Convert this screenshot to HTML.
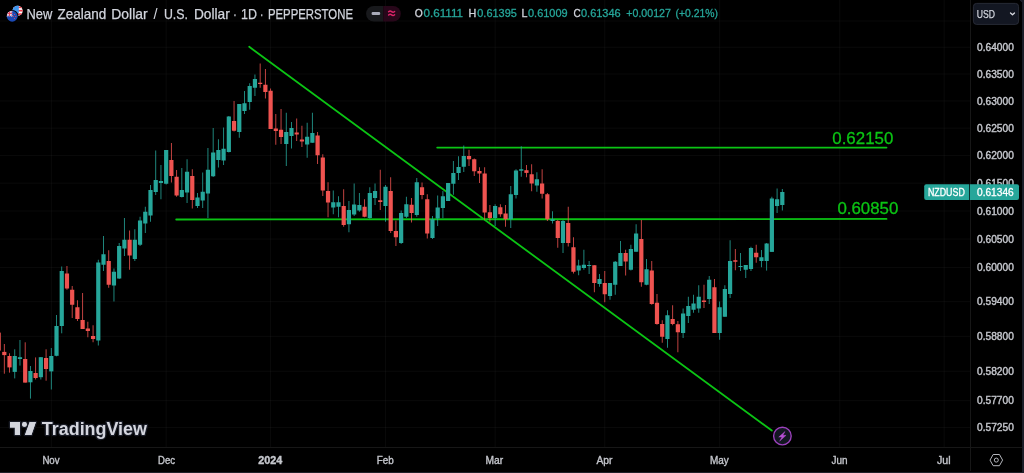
<!DOCTYPE html>
<html lang="en">
<head>
<meta charset="utf-8">
<title>NZDUSD chart</title>
<style>
html,body{margin:0;padding:0;background:#000;}
body{width:1024px;height:473px;overflow:hidden;}
svg{display:block;font-family:"Liberation Sans", sans-serif;}
</style>
</head>
<body>
<svg width="1024" height="473" viewBox="0 0 1024 473">
<rect width="1024" height="473" fill="#000"/>
<g id="grid" >
<rect x="50.84" y="0" width="0.9" height="447" fill="rgba(255,255,255,0.045)"/>
<rect x="165.72" y="0" width="0.9" height="447" fill="rgba(255,255,255,0.045)"/>
<rect x="270.15" y="0" width="0.9" height="447" fill="rgba(255,255,255,0.045)"/>
<rect x="385.02" y="0" width="0.9" height="447" fill="rgba(255,255,255,0.045)"/>
<rect x="494.67" y="0" width="0.9" height="447" fill="rgba(255,255,255,0.045)"/>
<rect x="604.32" y="0" width="0.9" height="447" fill="rgba(255,255,255,0.045)"/>
<rect x="719.20" y="0" width="0.9" height="447" fill="rgba(255,255,255,0.045)"/>
<rect x="839.29" y="0" width="0.9" height="447" fill="rgba(255,255,255,0.045)"/>
<rect x="943.72" y="0" width="0.9" height="447" fill="rgba(255,255,255,0.045)"/>
<rect x="0" y="20.55" width="970" height="0.9" fill="rgba(255,255,255,0.045)"/>
<rect x="0" y="46.80" width="970" height="0.9" fill="rgba(255,255,255,0.045)"/>
<rect x="0" y="73.55" width="970" height="0.9" fill="rgba(255,255,255,0.045)"/>
<rect x="0" y="100.51" width="970" height="0.9" fill="rgba(255,255,255,0.045)"/>
<rect x="0" y="127.69" width="970" height="0.9" fill="rgba(255,255,255,0.045)"/>
<rect x="0" y="155.09" width="970" height="0.9" fill="rgba(255,255,255,0.045)"/>
<rect x="0" y="182.70" width="970" height="0.9" fill="rgba(255,255,255,0.045)"/>
<rect x="0" y="210.55" width="970" height="0.9" fill="rgba(255,255,255,0.045)"/>
<rect x="0" y="238.62" width="970" height="0.9" fill="rgba(255,255,255,0.045)"/>
<rect x="0" y="266.92" width="970" height="0.9" fill="rgba(255,255,255,0.045)"/>
<rect x="0" y="301.20" width="970" height="0.9" fill="rgba(255,255,255,0.045)"/>
<rect x="0" y="335.83" width="970" height="0.9" fill="rgba(255,255,255,0.045)"/>
<rect x="0" y="370.81" width="970" height="0.9" fill="rgba(255,255,255,0.045)"/>
<rect x="0" y="400.24" width="970" height="0.9" fill="rgba(255,255,255,0.045)"/>
<rect x="0" y="426.94" width="970" height="0.9" fill="rgba(255,255,255,0.045)"/>
</g>
<g id="drawings" stroke="#0bc414" stroke-width="1.8" stroke-linecap="round" fill="none">
<line x1="249.2" y1="46.8" x2="771.8" y2="430.6"/>
<line x1="437.2" y1="147.6" x2="886.5" y2="147.6"/>
<line x1="176.2" y1="219.5" x2="886.5" y2="218.95"/>
</g>
<g id="candles">
<rect x="-0.2" y="332.60" width="1.15" height="18.00" fill="#ef5350" opacity="0.8"/>
<rect x="3.87" y="344.00" width="0.87" height="29.70" fill="#ef5350" opacity="0.92"/>
<rect x="2.20" y="351.90" width="4.2" height="3.20" fill="#ef5350"/>
<rect x="9.09" y="353.30" width="0.87" height="19.30" fill="#ef5350" opacity="0.92"/>
<rect x="7.42" y="356.00" width="4.2" height="11.40" fill="#ef5350"/>
<rect x="14.31" y="349.30" width="0.87" height="29.10" fill="#26a69a" opacity="0.92"/>
<rect x="12.64" y="356.00" width="4.2" height="15.90" fill="#26a69a"/>
<rect x="19.53" y="340.00" width="0.87" height="25.60" fill="#26a69a" opacity="0.92"/>
<rect x="17.87" y="357.20" width="4.2" height="1.80" fill="#26a69a"/>
<rect x="24.75" y="342.30" width="0.87" height="40.30" fill="#ef5350" opacity="0.92"/>
<rect x="23.09" y="359.00" width="4.2" height="23.60" fill="#ef5350"/>
<rect x="29.97" y="366.00" width="0.87" height="32.60" fill="#26a69a" opacity="0.92"/>
<rect x="28.31" y="371.00" width="4.2" height="11.30" fill="#26a69a"/>
<rect x="35.20" y="357.40" width="0.87" height="22.10" fill="#ef5350" opacity="0.92"/>
<rect x="33.53" y="373.00" width="4.2" height="5.00" fill="#ef5350"/>
<rect x="40.42" y="357.00" width="0.87" height="22.50" fill="#26a69a" opacity="0.92"/>
<rect x="38.75" y="357.20" width="4.2" height="20.00" fill="#26a69a"/>
<rect x="45.64" y="349.30" width="0.87" height="31.40" fill="#ef5350" opacity="0.92"/>
<rect x="43.97" y="358.00" width="4.2" height="11.00" fill="#ef5350"/>
<rect x="50.86" y="348.00" width="0.87" height="41.50" fill="#26a69a" opacity="0.92"/>
<rect x="49.19" y="356.00" width="4.2" height="15.40" fill="#26a69a"/>
<rect x="56.08" y="315.00" width="0.87" height="41.30" fill="#26a69a" opacity="0.92"/>
<rect x="54.42" y="326.00" width="4.2" height="29.80" fill="#26a69a"/>
<rect x="61.30" y="266.50" width="0.87" height="66.80" fill="#26a69a" opacity="0.92"/>
<rect x="59.64" y="271.00" width="4.2" height="55.00" fill="#26a69a"/>
<rect x="66.52" y="266.00" width="0.87" height="23.75" fill="#ef5350" opacity="0.92"/>
<rect x="64.86" y="273.50" width="4.2" height="15.00" fill="#ef5350"/>
<rect x="71.75" y="286.00" width="0.87" height="32.00" fill="#ef5350" opacity="0.92"/>
<rect x="70.08" y="289.75" width="4.2" height="15.00" fill="#ef5350"/>
<rect x="76.97" y="300.25" width="0.87" height="20.75" fill="#ef5350" opacity="0.92"/>
<rect x="75.30" y="307.25" width="4.2" height="11.75" fill="#ef5350"/>
<rect x="82.19" y="293.00" width="0.87" height="36.00" fill="#ef5350" opacity="0.92"/>
<rect x="80.52" y="320.00" width="4.2" height="9.00" fill="#ef5350"/>
<rect x="87.41" y="321.75" width="0.87" height="15.50" fill="#ef5350" opacity="0.92"/>
<rect x="85.75" y="328.50" width="4.2" height="2.50" fill="#ef5350"/>
<rect x="92.63" y="325.25" width="0.87" height="17.00" fill="#ef5350" opacity="0.92"/>
<rect x="90.97" y="336.00" width="4.2" height="3.00" fill="#ef5350"/>
<rect x="97.85" y="259.75" width="0.87" height="85.75" fill="#26a69a" opacity="0.92"/>
<rect x="96.19" y="262.50" width="4.2" height="78.00" fill="#26a69a"/>
<rect x="103.07" y="236.00" width="0.87" height="35.00" fill="#26a69a" opacity="0.92"/>
<rect x="101.41" y="254.25" width="4.2" height="10.50" fill="#26a69a"/>
<rect x="108.30" y="250.25" width="0.87" height="37.50" fill="#ef5350" opacity="0.92"/>
<rect x="106.63" y="261.00" width="4.2" height="23.75" fill="#ef5350"/>
<rect x="113.52" y="268.50" width="0.87" height="33.00" fill="#26a69a" opacity="0.92"/>
<rect x="111.85" y="271.75" width="4.2" height="13.75" fill="#26a69a"/>
<rect x="118.74" y="243.00" width="0.87" height="36.00" fill="#26a69a" opacity="0.92"/>
<rect x="117.07" y="246.00" width="4.2" height="32.50" fill="#26a69a"/>
<rect x="123.96" y="218.00" width="0.87" height="38.00" fill="#26a69a" opacity="0.92"/>
<rect x="122.30" y="239.75" width="4.2" height="8.75" fill="#26a69a"/>
<rect x="129.18" y="230.50" width="0.87" height="39.25" fill="#ef5350" opacity="0.92"/>
<rect x="127.52" y="239.75" width="4.2" height="15.75" fill="#ef5350"/>
<rect x="134.40" y="229.25" width="0.87" height="31.75" fill="#26a69a" opacity="0.92"/>
<rect x="132.74" y="239.75" width="4.2" height="19.25" fill="#26a69a"/>
<rect x="139.63" y="216.75" width="0.87" height="29.25" fill="#26a69a" opacity="0.92"/>
<rect x="137.96" y="220.50" width="4.2" height="24.25" fill="#26a69a"/>
<rect x="144.85" y="206.75" width="0.87" height="26.25" fill="#26a69a" opacity="0.92"/>
<rect x="143.18" y="211.75" width="4.2" height="11.75" fill="#26a69a"/>
<rect x="150.07" y="185.00" width="0.87" height="36.75" fill="#26a69a" opacity="0.92"/>
<rect x="148.40" y="190.00" width="4.2" height="25.50" fill="#26a69a"/>
<rect x="155.29" y="150.50" width="0.87" height="44.50" fill="#26a69a" opacity="0.92"/>
<rect x="153.62" y="180.00" width="4.2" height="12.00" fill="#26a69a"/>
<rect x="160.51" y="165.00" width="0.87" height="34.25" fill="#26a69a" opacity="0.92"/>
<rect x="158.85" y="181.00" width="4.2" height="2.00" fill="#26a69a"/>
<rect x="165.73" y="150.00" width="0.87" height="34.50" fill="#26a69a" opacity="0.92"/>
<rect x="164.07" y="150.00" width="4.2" height="33.75" fill="#26a69a"/>
<rect x="170.95" y="143.00" width="0.87" height="39.50" fill="#ef5350" opacity="0.92"/>
<rect x="169.29" y="160.00" width="4.2" height="16.00" fill="#ef5350"/>
<rect x="176.18" y="170.00" width="0.87" height="26.75" fill="#ef5350" opacity="0.92"/>
<rect x="174.51" y="176.75" width="4.2" height="18.75" fill="#ef5350"/>
<rect x="181.40" y="168.00" width="0.87" height="29.50" fill="#26a69a" opacity="0.92"/>
<rect x="179.73" y="190.00" width="4.2" height="7.00" fill="#26a69a"/>
<rect x="186.62" y="159.25" width="0.87" height="43.75" fill="#26a69a" opacity="0.92"/>
<rect x="184.95" y="171.75" width="4.2" height="20.75" fill="#26a69a"/>
<rect x="191.84" y="169.25" width="0.87" height="39.25" fill="#ef5350" opacity="0.92"/>
<rect x="190.18" y="176.00" width="4.2" height="24.00" fill="#ef5350"/>
<rect x="197.06" y="193.00" width="0.87" height="15.00" fill="#26a69a" opacity="0.92"/>
<rect x="195.40" y="197.50" width="4.2" height="8.50" fill="#26a69a"/>
<rect x="202.28" y="172.50" width="0.87" height="35.50" fill="#26a69a" opacity="0.92"/>
<rect x="200.62" y="191.75" width="4.2" height="8.75" fill="#26a69a"/>
<rect x="207.50" y="148.00" width="0.87" height="70.00" fill="#26a69a" opacity="0.92"/>
<rect x="205.84" y="169.75" width="4.2" height="23.75" fill="#26a69a"/>
<rect x="212.73" y="128.00" width="0.87" height="49.00" fill="#26a69a" opacity="0.92"/>
<rect x="211.06" y="152.50" width="4.2" height="23.75" fill="#26a69a"/>
<rect x="217.95" y="139.25" width="0.87" height="28.25" fill="#26a69a" opacity="0.92"/>
<rect x="216.28" y="150.00" width="4.2" height="10.00" fill="#26a69a"/>
<rect x="223.17" y="127.50" width="0.87" height="37.50" fill="#26a69a" opacity="0.92"/>
<rect x="221.50" y="148.75" width="4.2" height="11.75" fill="#26a69a"/>
<rect x="228.39" y="116.00" width="0.87" height="36.50" fill="#26a69a" opacity="0.92"/>
<rect x="226.73" y="116.50" width="4.2" height="35.50" fill="#26a69a"/>
<rect x="233.61" y="101.00" width="0.87" height="30.50" fill="#ef5350" opacity="0.92"/>
<rect x="231.95" y="121.00" width="4.2" height="9.75" fill="#ef5350"/>
<rect x="238.83" y="104.00" width="0.87" height="33.75" fill="#26a69a" opacity="0.92"/>
<rect x="237.17" y="104.00" width="4.2" height="28.00" fill="#26a69a"/>
<rect x="244.06" y="91.00" width="0.87" height="23.00" fill="#26a69a" opacity="0.92"/>
<rect x="242.39" y="103.25" width="4.2" height="7.75" fill="#26a69a"/>
<rect x="249.28" y="83.25" width="0.87" height="26.50" fill="#26a69a" opacity="0.92"/>
<rect x="247.61" y="86.00" width="4.2" height="16.00" fill="#26a69a"/>
<rect x="254.50" y="74.50" width="0.87" height="21.50" fill="#26a69a" opacity="0.92"/>
<rect x="252.83" y="79.00" width="4.2" height="8.75" fill="#26a69a"/>
<rect x="259.72" y="63.50" width="0.87" height="24.25" fill="#ef5350" opacity="0.92"/>
<rect x="258.05" y="82.75" width="4.2" height="1.25" fill="#ef5350"/>
<rect x="264.94" y="69.00" width="0.87" height="29.50" fill="#ef5350" opacity="0.92"/>
<rect x="263.28" y="84.75" width="4.2" height="7.25" fill="#ef5350"/>
<rect x="270.16" y="88.50" width="0.87" height="40.50" fill="#ef5350" opacity="0.92"/>
<rect x="268.50" y="90.75" width="4.2" height="38.25" fill="#ef5350"/>
<rect x="275.38" y="114.00" width="0.87" height="30.75" fill="#ef5350" opacity="0.92"/>
<rect x="273.72" y="128.50" width="4.2" height="2.50" fill="#ef5350"/>
<rect x="280.61" y="109.00" width="0.87" height="35.00" fill="#ef5350" opacity="0.92"/>
<rect x="278.94" y="129.75" width="4.2" height="7.25" fill="#ef5350"/>
<rect x="285.83" y="112.75" width="0.87" height="53.25" fill="#26a69a" opacity="0.92"/>
<rect x="284.16" y="132.00" width="4.2" height="12.00" fill="#26a69a"/>
<rect x="291.05" y="122.00" width="0.87" height="26.50" fill="#26a69a" opacity="0.92"/>
<rect x="289.38" y="128.00" width="4.2" height="8.00" fill="#26a69a"/>
<rect x="296.27" y="118.50" width="0.87" height="22.50" fill="#ef5350" opacity="0.92"/>
<rect x="294.61" y="132.50" width="4.2" height="2.00" fill="#ef5350"/>
<rect x="301.49" y="125.75" width="0.87" height="21.25" fill="#ef5350" opacity="0.92"/>
<rect x="299.83" y="139.50" width="4.2" height="2.00" fill="#ef5350"/>
<rect x="306.71" y="122.75" width="0.87" height="35.00" fill="#26a69a" opacity="0.92"/>
<rect x="305.05" y="136.75" width="4.2" height="7.75" fill="#26a69a"/>
<rect x="311.93" y="112.75" width="0.87" height="30.00" fill="#26a69a" opacity="0.92"/>
<rect x="310.27" y="133.00" width="4.2" height="9.75" fill="#26a69a"/>
<rect x="317.16" y="132.00" width="0.87" height="32.00" fill="#ef5350" opacity="0.92"/>
<rect x="315.49" y="135.50" width="4.2" height="19.75" fill="#ef5350"/>
<rect x="322.38" y="154.25" width="0.87" height="41.75" fill="#ef5350" opacity="0.92"/>
<rect x="320.71" y="157.50" width="4.2" height="33.00" fill="#ef5350"/>
<rect x="327.60" y="182.25" width="0.87" height="35.00" fill="#ef5350" opacity="0.92"/>
<rect x="325.93" y="191.00" width="4.2" height="11.50" fill="#ef5350"/>
<rect x="332.82" y="190.50" width="0.87" height="23.75" fill="#26a69a" opacity="0.92"/>
<rect x="331.16" y="202.25" width="4.2" height="5.25" fill="#26a69a"/>
<rect x="338.04" y="196.25" width="0.87" height="21.00" fill="#26a69a" opacity="0.92"/>
<rect x="336.38" y="202.25" width="4.2" height="4.50" fill="#26a69a"/>
<rect x="343.26" y="189.25" width="0.87" height="37.50" fill="#ef5350" opacity="0.92"/>
<rect x="341.60" y="206.00" width="4.2" height="19.00" fill="#ef5350"/>
<rect x="348.49" y="201.00" width="0.87" height="31.25" fill="#26a69a" opacity="0.92"/>
<rect x="346.82" y="210.00" width="4.2" height="14.25" fill="#26a69a"/>
<rect x="353.71" y="183.50" width="0.87" height="32.50" fill="#26a69a" opacity="0.92"/>
<rect x="352.04" y="204.50" width="4.2" height="10.00" fill="#26a69a"/>
<rect x="358.93" y="193.00" width="0.87" height="18.75" fill="#26a69a" opacity="0.92"/>
<rect x="357.26" y="205.00" width="4.2" height="5.50" fill="#26a69a"/>
<rect x="364.15" y="199.25" width="0.87" height="18.00" fill="#ef5350" opacity="0.92"/>
<rect x="362.48" y="206.75" width="4.2" height="10.00" fill="#ef5350"/>
<rect x="369.37" y="187.25" width="0.87" height="31.50" fill="#26a69a" opacity="0.92"/>
<rect x="367.71" y="193.00" width="4.2" height="25.00" fill="#26a69a"/>
<rect x="374.59" y="183.50" width="0.87" height="21.50" fill="#26a69a" opacity="0.92"/>
<rect x="372.93" y="191.00" width="4.2" height="7.00" fill="#26a69a"/>
<rect x="379.81" y="169.75" width="0.87" height="40.25" fill="#ef5350" opacity="0.92"/>
<rect x="378.15" y="200.25" width="4.2" height="1.75" fill="#ef5350"/>
<rect x="385.04" y="185.00" width="0.87" height="36.75" fill="#26a69a" opacity="0.92"/>
<rect x="383.37" y="186.75" width="4.2" height="19.25" fill="#26a69a"/>
<rect x="390.26" y="177.25" width="0.87" height="55.75" fill="#ef5350" opacity="0.92"/>
<rect x="388.59" y="191.00" width="4.2" height="40.00" fill="#ef5350"/>
<rect x="395.48" y="220.50" width="0.87" height="25.50" fill="#ef5350" opacity="0.92"/>
<rect x="393.81" y="231.00" width="4.2" height="6.25" fill="#ef5350"/>
<rect x="400.70" y="210.50" width="0.87" height="33.50" fill="#26a69a" opacity="0.92"/>
<rect x="399.04" y="213.00" width="4.2" height="30.00" fill="#26a69a"/>
<rect x="405.92" y="196.75" width="0.87" height="21.25" fill="#26a69a" opacity="0.92"/>
<rect x="404.26" y="204.25" width="4.2" height="12.50" fill="#26a69a"/>
<rect x="411.14" y="198.00" width="0.87" height="24.50" fill="#ef5350" opacity="0.92"/>
<rect x="409.48" y="204.75" width="4.2" height="8.25" fill="#ef5350"/>
<rect x="416.36" y="178.00" width="0.87" height="38.75" fill="#26a69a" opacity="0.92"/>
<rect x="414.70" y="182.25" width="4.2" height="32.75" fill="#26a69a"/>
<rect x="421.59" y="182.50" width="0.87" height="16.75" fill="#ef5350" opacity="0.92"/>
<rect x="419.92" y="187.25" width="4.2" height="7.75" fill="#ef5350"/>
<rect x="426.81" y="194.25" width="0.87" height="44.25" fill="#ef5350" opacity="0.92"/>
<rect x="425.14" y="199.25" width="4.2" height="34.25" fill="#ef5350"/>
<rect x="432.03" y="216.00" width="0.87" height="23.00" fill="#26a69a" opacity="0.92"/>
<rect x="430.36" y="219.25" width="4.2" height="18.75" fill="#26a69a"/>
<rect x="437.25" y="195.50" width="0.87" height="30.50" fill="#26a69a" opacity="0.92"/>
<rect x="435.59" y="207.50" width="4.2" height="11.00" fill="#26a69a"/>
<rect x="442.47" y="191.00" width="0.87" height="27.20" fill="#26a69a" opacity="0.92"/>
<rect x="440.81" y="196.25" width="4.2" height="11.75" fill="#26a69a"/>
<rect x="447.69" y="183.00" width="0.87" height="18.00" fill="#26a69a" opacity="0.92"/>
<rect x="446.03" y="183.00" width="4.2" height="18.00" fill="#26a69a"/>
<rect x="452.92" y="161.00" width="0.87" height="33.75" fill="#26a69a" opacity="0.92"/>
<rect x="451.25" y="173.00" width="4.2" height="10.75" fill="#26a69a"/>
<rect x="458.14" y="156.25" width="0.87" height="23.75" fill="#26a69a" opacity="0.92"/>
<rect x="456.47" y="167.00" width="4.2" height="6.00" fill="#26a69a"/>
<rect x="463.36" y="145.50" width="0.87" height="26.50" fill="#26a69a" opacity="0.92"/>
<rect x="461.69" y="156.00" width="4.2" height="10.75" fill="#26a69a"/>
<rect x="468.58" y="149.75" width="0.87" height="16.25" fill="#ef5350" opacity="0.92"/>
<rect x="466.91" y="156.00" width="4.2" height="3.25" fill="#ef5350"/>
<rect x="473.80" y="158.50" width="0.87" height="17.50" fill="#ef5350" opacity="0.92"/>
<rect x="472.14" y="159.25" width="4.2" height="12.00" fill="#ef5350"/>
<rect x="479.02" y="167.25" width="0.87" height="15.75" fill="#ef5350" opacity="0.92"/>
<rect x="477.36" y="171.00" width="4.2" height="2.50" fill="#ef5350"/>
<rect x="484.24" y="167.25" width="0.87" height="52.75" fill="#ef5350" opacity="0.92"/>
<rect x="482.58" y="173.50" width="4.2" height="39.00" fill="#ef5350"/>
<rect x="489.47" y="205.00" width="0.87" height="16.75" fill="#ef5350" opacity="0.92"/>
<rect x="487.80" y="212.25" width="4.2" height="5.75" fill="#ef5350"/>
<rect x="494.69" y="204.25" width="0.87" height="21.75" fill="#26a69a" opacity="0.92"/>
<rect x="493.02" y="206.00" width="4.2" height="12.00" fill="#26a69a"/>
<rect x="499.91" y="204.25" width="0.87" height="12.50" fill="#ef5350" opacity="0.92"/>
<rect x="498.24" y="207.25" width="4.2" height="7.00" fill="#ef5350"/>
<rect x="505.13" y="205.00" width="0.87" height="21.75" fill="#ef5350" opacity="0.92"/>
<rect x="503.47" y="213.50" width="4.2" height="5.75" fill="#ef5350"/>
<rect x="510.35" y="186.00" width="0.87" height="42.00" fill="#26a69a" opacity="0.92"/>
<rect x="508.69" y="194.25" width="4.2" height="25.00" fill="#26a69a"/>
<rect x="515.57" y="169.25" width="0.87" height="29.25" fill="#26a69a" opacity="0.92"/>
<rect x="513.91" y="170.50" width="4.2" height="24.50" fill="#26a69a"/>
<rect x="520.80" y="146.25" width="0.87" height="30.50" fill="#26a69a" opacity="0.92"/>
<rect x="519.13" y="169.25" width="4.2" height="1.50" fill="#26a69a"/>
<rect x="526.02" y="165.00" width="0.87" height="12.25" fill="#ef5350" opacity="0.92"/>
<rect x="524.35" y="170.20" width="4.2" height="2.70" fill="#ef5350"/>
<rect x="531.24" y="164.25" width="0.87" height="27.00" fill="#ef5350" opacity="0.92"/>
<rect x="529.57" y="174.25" width="4.2" height="9.25" fill="#ef5350"/>
<rect x="536.46" y="172.25" width="0.87" height="19.50" fill="#26a69a" opacity="0.92"/>
<rect x="534.79" y="179.25" width="4.2" height="6.25" fill="#26a69a"/>
<rect x="541.68" y="169.25" width="0.87" height="29.25" fill="#ef5350" opacity="0.92"/>
<rect x="540.02" y="183.50" width="4.2" height="10.25" fill="#ef5350"/>
<rect x="546.90" y="193.00" width="0.87" height="28.00" fill="#ef5350" opacity="0.92"/>
<rect x="545.24" y="194.25" width="4.2" height="25.00" fill="#ef5350"/>
<rect x="552.12" y="211.25" width="0.87" height="12.25" fill="#26a69a" opacity="0.92"/>
<rect x="550.46" y="219.25" width="4.2" height="1.75" fill="#26a69a"/>
<rect x="557.35" y="220.00" width="0.87" height="27.75" fill="#ef5350" opacity="0.92"/>
<rect x="555.68" y="221.00" width="4.2" height="17.00" fill="#ef5350"/>
<rect x="562.57" y="220.00" width="0.87" height="33.00" fill="#26a69a" opacity="0.92"/>
<rect x="560.90" y="221.00" width="4.2" height="22.00" fill="#26a69a"/>
<rect x="567.79" y="206.75" width="0.87" height="39.75" fill="#ef5350" opacity="0.92"/>
<rect x="566.12" y="223.00" width="4.2" height="20.00" fill="#ef5350"/>
<rect x="573.01" y="237.25" width="0.87" height="36.25" fill="#ef5350" opacity="0.92"/>
<rect x="571.35" y="247.25" width="4.2" height="24.50" fill="#ef5350"/>
<rect x="578.23" y="259.75" width="0.87" height="15.50" fill="#26a69a" opacity="0.92"/>
<rect x="576.57" y="265.50" width="4.2" height="5.00" fill="#26a69a"/>
<rect x="583.45" y="249.75" width="0.87" height="20.00" fill="#26a69a" opacity="0.92"/>
<rect x="581.79" y="264.75" width="4.2" height="3.25" fill="#26a69a"/>
<rect x="588.67" y="261.00" width="0.87" height="13.00" fill="#26a69a" opacity="0.92"/>
<rect x="587.01" y="265.00" width="4.2" height="1.00" fill="#26a69a"/>
<rect x="593.90" y="265.25" width="0.87" height="27.00" fill="#ef5350" opacity="0.92"/>
<rect x="592.23" y="265.25" width="4.2" height="17.75" fill="#ef5350"/>
<rect x="599.12" y="274.00" width="0.87" height="12.75" fill="#26a69a" opacity="0.92"/>
<rect x="597.45" y="279.00" width="4.2" height="5.00" fill="#26a69a"/>
<rect x="604.34" y="271.00" width="0.87" height="31.25" fill="#ef5350" opacity="0.92"/>
<rect x="602.67" y="283.00" width="4.2" height="11.25" fill="#ef5350"/>
<rect x="609.56" y="283.00" width="0.87" height="16.75" fill="#26a69a" opacity="0.92"/>
<rect x="607.90" y="283.00" width="4.2" height="13.00" fill="#26a69a"/>
<rect x="614.78" y="261.00" width="0.87" height="33.75" fill="#26a69a" opacity="0.92"/>
<rect x="613.12" y="261.75" width="4.2" height="23.00" fill="#26a69a"/>
<rect x="620.00" y="241.00" width="0.87" height="25.00" fill="#26a69a" opacity="0.92"/>
<rect x="618.34" y="253.00" width="4.2" height="13.00" fill="#26a69a"/>
<rect x="625.23" y="249.75" width="0.87" height="25.75" fill="#ef5350" opacity="0.92"/>
<rect x="623.56" y="253.00" width="4.2" height="8.50" fill="#ef5350"/>
<rect x="630.45" y="244.75" width="0.87" height="25.75" fill="#26a69a" opacity="0.92"/>
<rect x="628.78" y="249.00" width="4.2" height="20.75" fill="#26a69a"/>
<rect x="635.67" y="224.25" width="0.87" height="27.50" fill="#26a69a" opacity="0.92"/>
<rect x="634.00" y="233.50" width="4.2" height="18.25" fill="#26a69a"/>
<rect x="640.89" y="220.00" width="0.87" height="66.75" fill="#ef5350" opacity="0.92"/>
<rect x="639.22" y="239.00" width="4.2" height="43.25" fill="#ef5350"/>
<rect x="646.11" y="259.00" width="0.87" height="26.25" fill="#26a69a" opacity="0.92"/>
<rect x="644.45" y="269.25" width="4.2" height="15.50" fill="#26a69a"/>
<rect x="651.33" y="261.00" width="0.87" height="43.75" fill="#ef5350" opacity="0.92"/>
<rect x="649.67" y="270.50" width="4.2" height="33.50" fill="#ef5350"/>
<rect x="656.55" y="294.00" width="0.87" height="30.75" fill="#ef5350" opacity="0.92"/>
<rect x="654.89" y="302.75" width="4.2" height="21.25" fill="#ef5350"/>
<rect x="661.78" y="320.25" width="0.87" height="22.50" fill="#ef5350" opacity="0.92"/>
<rect x="660.11" y="324.00" width="4.2" height="12.75" fill="#ef5350"/>
<rect x="667.00" y="310.25" width="0.87" height="37.50" fill="#26a69a" opacity="0.92"/>
<rect x="665.33" y="315.25" width="4.2" height="23.75" fill="#26a69a"/>
<rect x="672.22" y="305.25" width="0.87" height="20.00" fill="#ef5350" opacity="0.92"/>
<rect x="670.55" y="319.00" width="4.2" height="5.00" fill="#ef5350"/>
<rect x="677.44" y="321.00" width="0.87" height="31.25" fill="#ef5350" opacity="0.92"/>
<rect x="675.77" y="324.25" width="4.2" height="8.00" fill="#ef5350"/>
<rect x="682.66" y="308.50" width="0.87" height="29.50" fill="#26a69a" opacity="0.92"/>
<rect x="681.00" y="313.50" width="4.2" height="19.50" fill="#26a69a"/>
<rect x="687.88" y="296.75" width="0.87" height="26.25" fill="#26a69a" opacity="0.92"/>
<rect x="686.22" y="306.00" width="4.2" height="10.00" fill="#26a69a"/>
<rect x="693.10" y="294.75" width="0.87" height="18.00" fill="#26a69a" opacity="0.92"/>
<rect x="691.44" y="303.50" width="4.2" height="6.25" fill="#26a69a"/>
<rect x="698.33" y="285.25" width="0.87" height="27.50" fill="#26a69a" opacity="0.92"/>
<rect x="696.66" y="296.75" width="4.2" height="11.75" fill="#26a69a"/>
<rect x="703.55" y="284.75" width="0.87" height="23.25" fill="#ef5350" opacity="0.92"/>
<rect x="701.88" y="300.50" width="4.2" height="1.50" fill="#ef5350"/>
<rect x="708.77" y="276.00" width="0.87" height="28.00" fill="#26a69a" opacity="0.92"/>
<rect x="707.10" y="279.75" width="4.2" height="19.25" fill="#26a69a"/>
<rect x="713.99" y="279.00" width="0.87" height="54.00" fill="#ef5350" opacity="0.92"/>
<rect x="712.33" y="287.25" width="4.2" height="45.75" fill="#ef5350"/>
<rect x="719.21" y="301.50" width="0.87" height="38.25" fill="#26a69a" opacity="0.92"/>
<rect x="717.55" y="307.25" width="4.2" height="25.75" fill="#26a69a"/>
<rect x="724.43" y="285.25" width="0.87" height="31.50" fill="#26a69a" opacity="0.92"/>
<rect x="722.77" y="289.00" width="4.2" height="27.75" fill="#26a69a"/>
<rect x="729.66" y="240.25" width="0.87" height="57.75" fill="#26a69a" opacity="0.92"/>
<rect x="727.99" y="261.00" width="4.2" height="33.00" fill="#26a69a"/>
<rect x="734.88" y="249.00" width="0.87" height="21.25" fill="#ef5350" opacity="0.92"/>
<rect x="733.21" y="260.25" width="4.2" height="1.50" fill="#ef5350"/>
<rect x="740.10" y="253.00" width="0.87" height="18.00" fill="#26a69a" opacity="0.92"/>
<rect x="738.43" y="266.00" width="4.2" height="1.00" fill="#26a69a"/>
<rect x="745.32" y="265.00" width="0.87" height="13.00" fill="#26a69a" opacity="0.92"/>
<rect x="743.65" y="265.00" width="4.2" height="4.75" fill="#26a69a"/>
<rect x="750.54" y="246.75" width="0.87" height="24.25" fill="#26a69a" opacity="0.92"/>
<rect x="748.88" y="248.00" width="4.2" height="21.00" fill="#26a69a"/>
<rect x="755.76" y="244.75" width="0.87" height="18.00" fill="#ef5350" opacity="0.92"/>
<rect x="754.10" y="252.75" width="4.2" height="4.50" fill="#ef5350"/>
<rect x="760.98" y="250.00" width="0.87" height="17.25" fill="#26a69a" opacity="0.92"/>
<rect x="759.32" y="257.25" width="4.2" height="3.75" fill="#26a69a"/>
<rect x="766.21" y="243.00" width="0.87" height="27.60" fill="#26a69a" opacity="0.92"/>
<rect x="764.54" y="243.50" width="4.2" height="17.50" fill="#26a69a"/>
<rect x="771.43" y="196.75" width="0.87" height="55.15" fill="#26a69a" opacity="0.92"/>
<rect x="769.76" y="198.50" width="4.2" height="53.40" fill="#26a69a"/>
<rect x="776.65" y="188.50" width="0.87" height="24.50" fill="#26a69a" opacity="0.92"/>
<rect x="774.98" y="199.25" width="4.2" height="6.75" fill="#26a69a"/>
<rect x="781.87" y="189.00" width="0.87" height="21.50" fill="#26a69a" opacity="0.92"/>
<rect x="780.21" y="192.00" width="4.2" height="13.00" fill="#26a69a"/>
</g>
<text x="832.3" y="143.8" font-size="17.0" fill="#0bc414" font-weight="normal" text-anchor="start" textLength="61.0" lengthAdjust="spacingAndGlyphs" stroke="#0bc414" stroke-width="0.3">0.62150</text>
<text x="837.4" y="214.1" font-size="17.0" fill="#0bc414" font-weight="normal" text-anchor="start" textLength="61.0" lengthAdjust="spacingAndGlyphs" stroke="#0bc414" stroke-width="0.3">0.60850</text>
<g id="flash">
<circle cx="782.4" cy="436.0" r="8.8" fill="#131722" stroke="#9c41bd" stroke-width="1.35"/>
<path d="M785.0 431.5 L778.7 437.1 L781.9 437.1 L779.6 441.2 L786.1 435.3 L782.9 435.3 Z" fill="#b54fd2" stroke="#b54fd2" stroke-width="0.4" stroke-linejoin="round"/>
</g>
<g id="axes" shape-rendering="crispEdges">
<rect x="970" y="0" width="1" height="471" fill="#171717"/>
<rect x="0" y="447" width="1022" height="1" fill="#171717"/>
<path d="M1024 0 H1018.5 Q1021.8 0.3 1021.8 4.5 V473 H1024 Z" fill="#1b1e28"/>
<rect x="0" y="471.6" width="1024" height="1.4" fill="#1d2029"/>
</g>
<text x="977.0" y="50.85" font-size="10.2" fill="#c4c6cc" font-weight="normal" text-anchor="start" textLength="36.8" lengthAdjust="spacingAndGlyphs" stroke="#c4c6cc" stroke-width="0.4">0.64000</text>
<text x="977.0" y="77.6" font-size="10.2" fill="#c4c6cc" font-weight="normal" text-anchor="start" textLength="36.8" lengthAdjust="spacingAndGlyphs" stroke="#c4c6cc" stroke-width="0.4">0.63500</text>
<text x="977.0" y="104.56" font-size="10.2" fill="#c4c6cc" font-weight="normal" text-anchor="start" textLength="36.8" lengthAdjust="spacingAndGlyphs" stroke="#c4c6cc" stroke-width="0.4">0.63000</text>
<text x="977.0" y="131.74" font-size="10.2" fill="#c4c6cc" font-weight="normal" text-anchor="start" textLength="36.8" lengthAdjust="spacingAndGlyphs" stroke="#c4c6cc" stroke-width="0.4">0.62500</text>
<text x="977.0" y="159.14" font-size="10.2" fill="#c4c6cc" font-weight="normal" text-anchor="start" textLength="36.8" lengthAdjust="spacingAndGlyphs" stroke="#c4c6cc" stroke-width="0.4">0.62000</text>
<text x="977.0" y="186.75" font-size="10.2" fill="#c4c6cc" font-weight="normal" text-anchor="start" textLength="36.8" lengthAdjust="spacingAndGlyphs" stroke="#c4c6cc" stroke-width="0.4">0.61500</text>
<text x="977.0" y="214.6" font-size="10.2" fill="#c4c6cc" font-weight="normal" text-anchor="start" textLength="36.8" lengthAdjust="spacingAndGlyphs" stroke="#c4c6cc" stroke-width="0.4">0.61000</text>
<text x="977.0" y="242.67" font-size="10.2" fill="#c4c6cc" font-weight="normal" text-anchor="start" textLength="36.8" lengthAdjust="spacingAndGlyphs" stroke="#c4c6cc" stroke-width="0.4">0.60500</text>
<text x="977.0" y="270.97" font-size="10.2" fill="#c4c6cc" font-weight="normal" text-anchor="start" textLength="36.8" lengthAdjust="spacingAndGlyphs" stroke="#c4c6cc" stroke-width="0.4">0.60000</text>
<text x="977.0" y="305.25" font-size="10.2" fill="#c4c6cc" font-weight="normal" text-anchor="start" textLength="36.8" lengthAdjust="spacingAndGlyphs" stroke="#c4c6cc" stroke-width="0.4">0.59400</text>
<text x="977.0" y="339.88" font-size="10.2" fill="#c4c6cc" font-weight="normal" text-anchor="start" textLength="36.8" lengthAdjust="spacingAndGlyphs" stroke="#c4c6cc" stroke-width="0.4">0.58800</text>
<text x="977.0" y="374.86" font-size="10.2" fill="#c4c6cc" font-weight="normal" text-anchor="start" textLength="36.8" lengthAdjust="spacingAndGlyphs" stroke="#c4c6cc" stroke-width="0.4">0.58200</text>
<text x="977.0" y="404.29" font-size="10.2" fill="#c4c6cc" font-weight="normal" text-anchor="start" textLength="36.8" lengthAdjust="spacingAndGlyphs" stroke="#c4c6cc" stroke-width="0.4">0.57700</text>
<text x="977.0" y="430.99" font-size="10.2" fill="#c4c6cc" font-weight="normal" text-anchor="start" textLength="36.8" lengthAdjust="spacingAndGlyphs" stroke="#c4c6cc" stroke-width="0.4">0.57250</text>
<g id="plabel">
<path d="M926.2 184.3 H969.2 V200.1 H926.2 Q924.2 200.1 924.2 198.1 V186.3 Q924.2 184.3 926.2 184.3 Z" fill="#26a69a"/>
<path d="M969.9 184.3 H1017.0 Q1019.0 184.3 1019.0 186.3 V198.1 Q1019.0 200.1 1017.0 200.1 H969.9 Z" fill="#26a69a"/>
<text x="927.9" y="195.8" font-size="10.0" fill="#ffffff" font-weight="normal" text-anchor="start" textLength="36.9" lengthAdjust="spacingAndGlyphs" stroke="#ffffff" stroke-width="0.3">NZDUSD</text>
<text x="977.0" y="195.8" font-size="10.0" fill="#ffffff" font-weight="normal" text-anchor="start" textLength="36.7" lengthAdjust="spacingAndGlyphs" stroke="#ffffff" stroke-width="0.3">0.61346</text>
</g>
<g id="usd">
<rect x="973.4" y="3.4" width="45.2" height="21.0" rx="3.2" fill="#131722" stroke="#2a2e39" stroke-width="0.9"/>
<text x="976.7" y="18" font-size="10.2" fill="#d1d4dc" font-weight="normal" text-anchor="start" textLength="18.2" lengthAdjust="spacingAndGlyphs" stroke="#d1d4dc" stroke-width="0.25">USD</text>
<path d="M1010.5 13.0 L1012.5 14.8 L1014.5 13.0" fill="none" stroke="#d8dae0" stroke-width="1.3" stroke-linecap="round" stroke-linejoin="round"/>
</g>
<text x="42.4" y="463.5" font-size="10.2" fill="#c4c6cc" font-weight="normal" text-anchor="start" textLength="17.2" lengthAdjust="spacingAndGlyphs" stroke="#c4c6cc" stroke-width="0.35">Nov</text>
<text x="158.1" y="463.5" font-size="10.2" fill="#c4c6cc" font-weight="normal" text-anchor="start" textLength="17.0" lengthAdjust="spacingAndGlyphs" stroke="#c4c6cc" stroke-width="0.35">Dec</text>
<text x="258.3" y="463.5" font-size="10.2" fill="#c4c6cc" font-weight="bold" text-anchor="start" textLength="24.0" lengthAdjust="spacingAndGlyphs" stroke="#c4c6cc" stroke-width="0.35">2024</text>
<text x="376.7" y="463.5" font-size="10.2" fill="#c4c6cc" font-weight="normal" text-anchor="start" textLength="17.0" lengthAdjust="spacingAndGlyphs" stroke="#c4c6cc" stroke-width="0.35">Feb</text>
<text x="485.59999999999997" y="463.5" font-size="10.2" fill="#c4c6cc" font-weight="normal" text-anchor="start" textLength="17.6" lengthAdjust="spacingAndGlyphs" stroke="#c4c6cc" stroke-width="0.35">Mar</text>
<text x="596.5" y="463.5" font-size="10.2" fill="#c4c6cc" font-weight="normal" text-anchor="start" textLength="16.0" lengthAdjust="spacingAndGlyphs" stroke="#c4c6cc" stroke-width="0.35">Apr</text>
<text x="709.9" y="463.5" font-size="10.2" fill="#c4c6cc" font-weight="normal" text-anchor="start" textLength="18.8" lengthAdjust="spacingAndGlyphs" stroke="#c4c6cc" stroke-width="0.35">May</text>
<text x="831.5" y="463.5" font-size="10.2" fill="#c4c6cc" font-weight="normal" text-anchor="start" textLength="16.0" lengthAdjust="spacingAndGlyphs" stroke="#c4c6cc" stroke-width="0.35">Jun</text>
<text x="937.0" y="463.5" font-size="10.2" fill="#c4c6cc" font-weight="normal" text-anchor="start" textLength="13.6" lengthAdjust="spacingAndGlyphs" stroke="#c4c6cc" stroke-width="0.35">Jul</text>
<g id="gear" fill="none" stroke="#b4b6bc" stroke-width="1.0" stroke-linejoin="round">
<path d="M990.00 460.10 L993.15 454.50 L999.45 454.50 L1002.60 460.10 L999.45 465.70 L993.15 465.70 Z"/>
<circle cx="996.3" cy="460.1" r="2.0"/>
</g>
<g id="flags">
<defs><clipPath id="cus"><circle cx="17.6" cy="10.8" r="5.1"/></clipPath><clipPath id="cnz"><circle cx="12.2" cy="16.25" r="5.45"/></clipPath></defs>
<g clip-path="url(#cus)">
<rect x="12" y="5" width="12" height="12" fill="#ffffff"/>
<rect x="12" y="6.5" width="12" height="1.65" fill="#ee3a48"/>
<rect x="12" y="9.85" width="12" height="1.65" fill="#ee3a48"/>
<rect x="12" y="13.3" width="12" height="1.65" fill="#ee3a48"/>
<rect x="12" y="5" width="6.8" height="8.2" fill="#3f97ee"/>
</g>
<circle cx="12.2" cy="16.25" r="6.3" fill="#000"/>
<g clip-path="url(#cnz)">
<rect x="6" y="10" width="13" height="13" fill="#1b49b3"/>
<path d="M6.5 10.5 L12.2 16.2 M12.2 10.5 L6.5 16.2" stroke="#f4f4f8" stroke-width="1.5"/>
<path d="M6.5 10.5 L12.2 16.2 M12.2 10.5 L6.5 16.2" stroke="#e8455a" stroke-width="0.6"/>
<path d="M9.4 10.5 V16.2 M6.5 13.4 H12.2" stroke="#f4f4f8" stroke-width="2.0"/>
<path d="M9.4 10.5 V16.2 M6.5 13.4 H12.2" stroke="#e8455a" stroke-width="1.2"/>
<circle cx="14.5" cy="14.5" r="0.6" fill="#e04a66"/>
<circle cx="13.2" cy="16.5" r="0.6" fill="#e04a66"/>
<circle cx="15.7" cy="16.5" r="0.6" fill="#e04a66"/>
<circle cx="14.5" cy="18.5" r="0.6" fill="#e04a66"/>
</g>
</g>
<text x="26.5" y="18.5" font-size="13.9" fill="#d1d4dc" font-weight="normal" text-anchor="start" textLength="25.8" lengthAdjust="spacingAndGlyphs" stroke="#d1d4dc" stroke-width="0.25">New</text>
<text x="57.5" y="18.5" font-size="13.9" fill="#d1d4dc" font-weight="normal" text-anchor="start" textLength="48.8" lengthAdjust="spacingAndGlyphs" stroke="#d1d4dc" stroke-width="0.25">Zealand</text>
<text x="111.3" y="18.5" font-size="13.9" fill="#d1d4dc" font-weight="normal" text-anchor="start" textLength="36.3" lengthAdjust="spacingAndGlyphs" stroke="#d1d4dc" stroke-width="0.25">Dollar</text>
<text x="155.5" y="18.5" font-size="14.5" fill="#d1d4dc" font-weight="normal" text-anchor="middle">/</text>
<text x="163.9" y="18.5" font-size="13.9" fill="#d1d4dc" font-weight="normal" text-anchor="start" textLength="24.0" lengthAdjust="spacingAndGlyphs" stroke="#d1d4dc" stroke-width="0.25">U.S.</text>
<text x="193.9" y="18.5" font-size="13.9" fill="#d1d4dc" font-weight="normal" text-anchor="start" textLength="35.9" lengthAdjust="spacingAndGlyphs" stroke="#d1d4dc" stroke-width="0.25">Dollar</text>
<text x="233.2" y="18.5" font-size="13.9" fill="#d1d4dc" font-weight="normal" text-anchor="start" textLength="3.4" lengthAdjust="spacingAndGlyphs" stroke="#d1d4dc" stroke-width="0.25">·</text>
<text x="241.1" y="18.5" font-size="13.9" fill="#d1d4dc" font-weight="normal" text-anchor="start" textLength="15.9" lengthAdjust="spacingAndGlyphs" stroke="#d1d4dc" stroke-width="0.25">1D</text>
<text x="259.9" y="18.5" font-size="13.9" fill="#d1d4dc" font-weight="normal" text-anchor="start" textLength="3.4" lengthAdjust="spacingAndGlyphs" stroke="#d1d4dc" stroke-width="0.25">·</text>
<text x="267.9" y="18.5" font-size="13.9" fill="#d1d4dc" font-weight="normal" text-anchor="start" textLength="85.1" lengthAdjust="spacingAndGlyphs" stroke="#d1d4dc" stroke-width="0.25">PEPPERSTONE</text>
<g id="pill">
<path d="M373.8 6.0 H383.3 V21.4 H373.8 A7.7 7.7 0 0 1 373.8 6.0 Z" fill="#18191c"/>
<path d="M383.3 6.0 H393.1 A7.7 7.7 0 0 1 393.1 21.4 H383.3 Z" fill="#28071a"/>
<rect x="371.6" y="12.1" width="8.6" height="2.9" rx="1.2" fill="#a9abb9"/>
<path d="M388.6 11.8 q1.5 -1.5 3.0 -0.2 t3.0 -0.2 M388.6 15.1 q1.5 -1.5 3.0 -0.2 t3.0 -0.2" fill="none" stroke="#dc2469" stroke-width="1.45" stroke-linecap="round"/>
</g>
<text x="414.8" y="17.2" font-size="11.2" fill="#d1d4dc" font-weight="normal" text-anchor="start" textLength="8.0" lengthAdjust="spacingAndGlyphs" stroke="#d1d4dc" stroke-width="0.3">O</text>
<text x="423.5" y="17.2" font-size="11.2" fill="#26a69a" font-weight="normal" text-anchor="start" textLength="39.5" lengthAdjust="spacingAndGlyphs" stroke="#26a69a" stroke-width="0.3">0.61111</text>
<text x="468.6" y="17.2" font-size="11.2" fill="#d1d4dc" font-weight="normal" text-anchor="start" textLength="7.8" lengthAdjust="spacingAndGlyphs" stroke="#d1d4dc" stroke-width="0.3">H</text>
<text x="477.3" y="17.2" font-size="11.2" fill="#26a69a" font-weight="normal" text-anchor="start" textLength="39.5" lengthAdjust="spacingAndGlyphs" stroke="#26a69a" stroke-width="0.3">0.61395</text>
<text x="521.6" y="17.2" font-size="11.2" fill="#d1d4dc" font-weight="normal" text-anchor="start" textLength="6.0" lengthAdjust="spacingAndGlyphs" stroke="#d1d4dc" stroke-width="0.3">L</text>
<text x="528.0" y="17.2" font-size="11.2" fill="#26a69a" font-weight="normal" text-anchor="start" textLength="39.7" lengthAdjust="spacingAndGlyphs" stroke="#26a69a" stroke-width="0.3">0.61009</text>
<text x="573.4" y="17.2" font-size="11.2" fill="#d1d4dc" font-weight="normal" text-anchor="start" textLength="7.2" lengthAdjust="spacingAndGlyphs" stroke="#d1d4dc" stroke-width="0.3">C</text>
<text x="581.0" y="17.2" font-size="11.2" fill="#26a69a" font-weight="normal" text-anchor="start" textLength="39.7" lengthAdjust="spacingAndGlyphs" stroke="#26a69a" stroke-width="0.3">0.61346</text>
<text x="626.3" y="17.2" font-size="11.2" fill="#26a69a" font-weight="normal" text-anchor="start" textLength="44.6" lengthAdjust="spacingAndGlyphs" stroke="#26a69a" stroke-width="0.3">+0.00127</text>
<text x="675.6" y="17.2" font-size="11.2" fill="#26a69a" font-weight="normal" text-anchor="start" textLength="42.4" lengthAdjust="spacingAndGlyphs" stroke="#26a69a" stroke-width="0.3">(+0.21%)</text>
<g id="logo">
<path d="M10.0 422.1 H20.0 V435.0 H14.9 V427.5 H10.0 Z M29.7 422.1 H35.9 L31.4 435.0 H24.95 Z" fill="#d4d6de" stroke="#181b25" stroke-width="2.6" stroke-linejoin="round" paint-order="stroke"/>
<circle cx="24.45" cy="424.4" r="2.35" fill="#d4d6de" stroke="#181b25" stroke-width="2.6" paint-order="stroke"/>
<path d="M10.0 422.1 H20.0 V435.0 H14.9 V427.5 H10.0 Z M29.7 422.1 H35.9 L31.4 435.0 H24.95 Z" fill="#d4d6de"/>
<circle cx="24.45" cy="424.4" r="2.35" fill="#d4d6de"/>
<text x="41.8" y="435.1" font-size="17.6" fill="#d4d6de" font-weight="bold" text-anchor="start" textLength="105.2" lengthAdjust="spacingAndGlyphs" stroke="#181b25" stroke-width="2.6" stroke-linejoin="round" paint-order="stroke">TradingView</text>
</g>
</svg>
</body>
</html>
